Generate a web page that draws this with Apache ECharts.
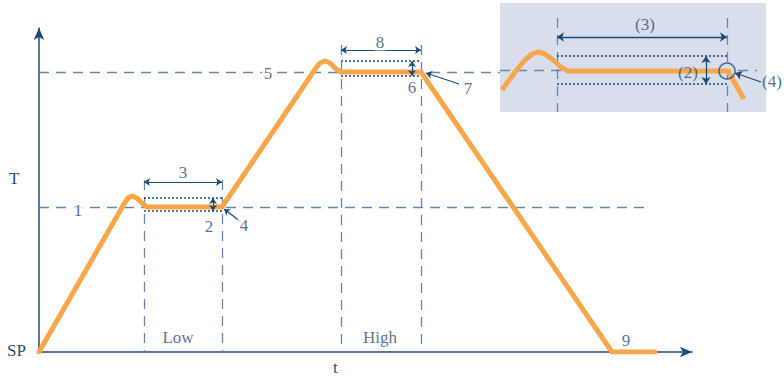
<!DOCTYPE html>
<html>
<head>
<meta charset="utf-8">
<script src="https://cdn.jsdelivr.net/npm/echarts@6/dist/echarts.min.js"></script>
<style>
html, body { margin: 0; padding: 0; background: #fff; }
#main { width: 784px; height: 377px; }
</style>
</head>
<body>
<div id="main"></div>
<script>
// 主图：温度曲线 (t, T)
var curveMain = [[0, 0], [85, 148], [89, 154], [93, 156], [98, 154], [103, 149], [108, 145], [183, 145],
	[277, 284], [281, 289], [286, 291], [291, 289], [297, 283], [302, 280], [382, 280], [573, 0], [616, 0]];
var dashedMain = [
	[[0, 145], [611, 145]],
	[[0, 280], [461, 280]],
	[[105, 172], [105, 0]],
	[[183, 172], [183, 0]],
	[[302, 307], [302, 0]],
	[[382, 307], [382, 0]]
];
var dottedMain = [
	[[105, 154], [183, 154]],
	[[105, 141], [183, 141]],
	[[302, 291], [382, 291]],
	[[302, 276], [382, 276]]
];
var doubleArrowsMain = [
	[[105, 170], [183, 170]],
	[[302, 302], [382, 302]],
	[[174, 154], [174, 141]],
	[[373, 291], [373, 276]]
];
var pointersMain = [
	[[202, 130], [185, 143]],
	[[420, 268], [387, 279]]
];
var labelsMain = [
	{ name: '1', value: [39, 142] },
	{ name: '5', value: [229, 279] },
	{ name: '3', value: [144, 180] },
	{ name: '8', value: [341, 310] },
	{ name: '2', value: [170, 126] },
	{ name: '6', value: [373, 265] },
	{ name: '4', value: [205, 127] },
	{ name: '7', value: [429, 264] },
	{ name: '9', value: [587, 12] },
	{ name: 'Low', value: [139, 15] },
	{ name: 'High', value: [341, 15] }
];

// 放大图
var curveInset = [[2, 22], [15, 40], [25, 52], [32, 58], [38, 60], [45, 58], [53, 52], [62, 44], [68, 41], [228, 41], [244, 13]];
var dashedInset = [
	[[0, 42], [257, 42]],
	[[57, 94], [57, 0]],
	[[227, 94], [227, 0]]
];
var dottedInset = [
	[[57, 56], [227, 56]],
	[[57, 28], [227, 28]]
];
var doubleArrowsInset = [
	[[57, 75], [227, 75]],
	[[206, 56], [206, 28]]
];
var pointersInset = [
	[[261, 30], [235, 39]]
];
var circleInset = [[227, 41]];
var labelsInset = [
	{ name: '(3)', value: [145, 88] },
	{ name: '(2)', value: [188, 40] },
	{ name: '(4)', value: [272, 31] }
];

var navy = '#1d4a7a';
var dashCol = '#6787ad';
var textCol = '#2d4d75';
var orange = '#f8a64a';
var serif = 'Liberation Serif';

function toLines(arr) {
	return arr.map(function (c) { return { coords: c }; });
}

var chart = echarts.init(document.getElementById('main'), null, { renderer: 'svg' });

var option = {
	backgroundColor: '#fff',
	animation: false,
	grid: [{
		left: 39, top: 28, right: 92, bottom: 25
	}, {
		left: 500, top: 3, width: 266, height: 109,
		show: true, backgroundColor: '#d8deeb', borderWidth: 0
	}],
	xAxis: [{
		gridIndex: 0, type: 'value', min: 0, max: 653,
		axisLine: { lineStyle: { color: navy, width: 1.5 }, symbol: ['none', 'arrow'], symbolSize: [8, 12] },
		axisTick: { show: false }, axisLabel: { show: false }, splitLine: { show: false }
	}, {
		gridIndex: 1, type: 'value', min: 0, max: 266, show: false
	}],
	yAxis: [{
		gridIndex: 0, type: 'value', min: 0, max: 324,
		axisLine: { show: true, lineStyle: { color: navy, width: 1.5 }, symbol: ['none', 'arrow'], symbolSize: [8, 12] },
		axisTick: { show: false }, axisLabel: { show: false }, splitLine: { show: false }
	}, {
		gridIndex: 1, type: 'value', min: 0, max: 109, show: false
	}],
	graphic: [
		{ type: 'text', left: 9, top: 170, style: { text: 'T', fontFamily: serif, fontSize: 17, fill: textCol } },
		{ type: 'text', left: 7, top: 342, style: { text: 'SP', fontFamily: serif, fontSize: 17, fill: textCol } },
		{ type: 'text', left: 333, top: 359, style: { text: 't', fontFamily: serif, fontSize: 17, fill: textCol } }
	],
	series: [
		// 虚线
		{
			type: 'lines', coordinateSystem: 'cartesian2d', xAxisIndex: 0, yAxisIndex: 0, z: 2,
			lineStyle: { color: dashCol, width: 1.3, type: [10, 7], opacity: 1 },
			data: toLines(dashedMain)
		},
		{
			type: 'lines', coordinateSystem: 'cartesian2d', xAxisIndex: 0, yAxisIndex: 0, z: 3,
			lineStyle: { color: navy, width: 1.5, type: [2, 2], opacity: 1 },
			data: toLines(dottedMain)
		},
		{
			type: 'line', xAxisIndex: 0, yAxisIndex: 0, z: 4, data: curveMain, showSymbol: false,
			lineStyle: { color: orange, width: 5, join: 'round', cap: 'round' }
		},
		{
			type: 'lines', coordinateSystem: 'cartesian2d', xAxisIndex: 0, yAxisIndex: 0, z: 5,
			symbol: ['arrow', 'arrow'], symbolSize: 6,
			lineStyle: { color: navy, width: 1.2, opacity: 1 },
			data: toLines(doubleArrowsMain)
		},
		{
			type: 'lines', coordinateSystem: 'cartesian2d', xAxisIndex: 0, yAxisIndex: 0, z: 5,
			symbol: ['none', 'arrow'], symbolSize: 6,
			lineStyle: { color: navy, width: 1.2, opacity: 1 },
			data: toLines(pointersMain)
		},
		{
			type: 'scatter', xAxisIndex: 0, yAxisIndex: 0, z: 6, symbolSize: 0, clip: false,
			data: labelsMain,
			label: {
				show: true, position: 'inside', formatter: '{b}', color: textCol,
				fontFamily: serif, fontSize: 17, backgroundColor: '#fff', padding: [0, 2]
			}
		},
		// 放大图
		{
			type: 'lines', coordinateSystem: 'cartesian2d', xAxisIndex: 1, yAxisIndex: 1, z: 2,
			lineStyle: { color: dashCol, width: 1.3, type: [10, 7], opacity: 1 },
			data: toLines(dashedInset)
		},
		{
			type: 'lines', coordinateSystem: 'cartesian2d', xAxisIndex: 1, yAxisIndex: 1, z: 3,
			lineStyle: { color: navy, width: 1.5, type: [2, 2], opacity: 1 },
			data: toLines(dottedInset)
		},
		{
			type: 'line', xAxisIndex: 1, yAxisIndex: 1, z: 4, data: curveInset, showSymbol: false,
			lineStyle: { color: orange, width: 5, join: 'round' }
		},
		{
			type: 'lines', coordinateSystem: 'cartesian2d', xAxisIndex: 1, yAxisIndex: 1, z: 5,
			symbol: ['arrow', 'arrow'], symbolSize: 7,
			lineStyle: { color: navy, width: 1.3, opacity: 1 },
			data: toLines(doubleArrowsInset)
		},
		{
			type: 'lines', coordinateSystem: 'cartesian2d', xAxisIndex: 1, yAxisIndex: 1, z: 5,
			symbol: ['none', 'arrow'], symbolSize: 7,
			lineStyle: { color: navy, width: 1.3, opacity: 1 },
			data: toLines(pointersInset)
		},
		{
			type: 'scatter', xAxisIndex: 1, yAxisIndex: 1, z: 6, symbol: 'circle', symbolSize: 16, clip: false,
			data: circleInset,
			itemStyle: { color: 'rgba(0,0,0,0)', borderColor: navy, borderWidth: 1.5 }
		},
		{
			type: 'scatter', xAxisIndex: 1, yAxisIndex: 1, z: 6, symbolSize: 0, clip: false,
			data: labelsInset,
			label: {
				show: true, position: 'inside', formatter: '{b}', color: textCol,
				fontFamily: serif, fontSize: 17
			}
		}
	]
};
chart.setOption(option);
</script>
</body>
</html>
